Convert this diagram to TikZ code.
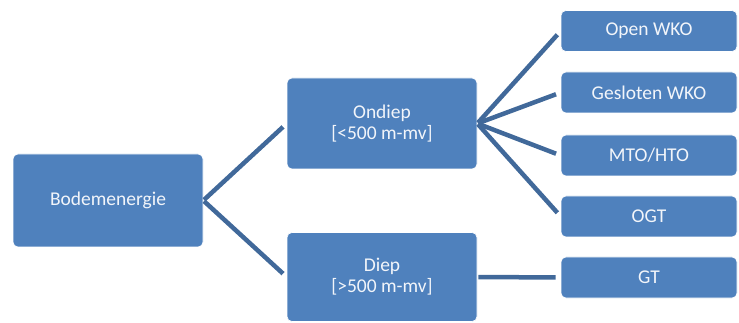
\documentclass[tikz,border=0pt]{standalone}
\usepackage{fontspec}
\setmainfont{Carlito}
\definecolor{BoxBlue}{HTML}{4F81BD}
\definecolor{EdgeBlue}{HTML}{41699A}
\definecolor{TextWhite}{HTML}{F2F5FA}

\begin{document}
\begin{tikzpicture}[x=1pt, y=-1pt]
\useasboundingbox (0,0) rectangle (739,323);

\coordinate (C1_1) at (108, 200.5);
\coordinate (C2_1) at (382, 123.5);
\coordinate (C2_2) at (382, 277);
\coordinate (C3_1) at (649, 31);
\coordinate (C3_2) at (649, 92.5);
\coordinate (C3_3) at (649, 155.5);
\coordinate (C3_4) at (649, 216.5);
\coordinate (C3_5) at (649, 277.5);


\tikzset{BoxStyle/.style = {
 shape = rectangle,
 rounded corners = 5pt,
 fill = BoxBlue,
 draw = white,
 line width = 0.6pt,
 text = TextWhite,
 align = center,
 inner sep = 0pt,
 font = \fontsize{19.5}{21}\selectfont} }

\tikzset{WideBox/.style = {BoxStyle, minimum width = 190pt, minimum height = 91pt} }
\tikzset{LeafBox/.style = {BoxStyle, minimum width = 176pt, minimum height = 41pt} }

\node[WideBox, minimum height = 93pt] (B) at (C1_1) {Bodemenergie};
\node[WideBox] (O) at (C2_1) {Ondiep\\{}[<500 m-mv]};
\node[WideBox, minimum height = 89pt] (D) at (C2_2) {Diep\\{}[>500 m-mv]};
\node[LeafBox] (L1) at (C3_1) {Open WKO};
\node[LeafBox] (L2) at (C3_2) {Gesloten WKO};
\node[LeafBox] (L3) at (C3_3) {MTO/HTO};
\node[LeafBox] (L4) at (C3_4) {OGT};
\node[LeafBox] (L5) at (C3_5) {GT};


\tikzset{EdgeStyle/.style = {draw = EdgeBlue, line width = 4.5pt,
 shorten < = 1pt, shorten > = 5pt} }

\draw[EdgeStyle] (B.east) -- (O.west);
\draw[EdgeStyle] (B.east) -- (D.west);
\draw[EdgeStyle] (O.east) -- (L1.west);
\draw[EdgeStyle] (O.east) -- (L2.west);
\draw[EdgeStyle] (O.east) -- (L3.west);
\draw[EdgeStyle] (O.east) -- (L4.west);
\draw[EdgeStyle] (D.east) -- (L5.west);

\end{tikzpicture}
\end{document}
